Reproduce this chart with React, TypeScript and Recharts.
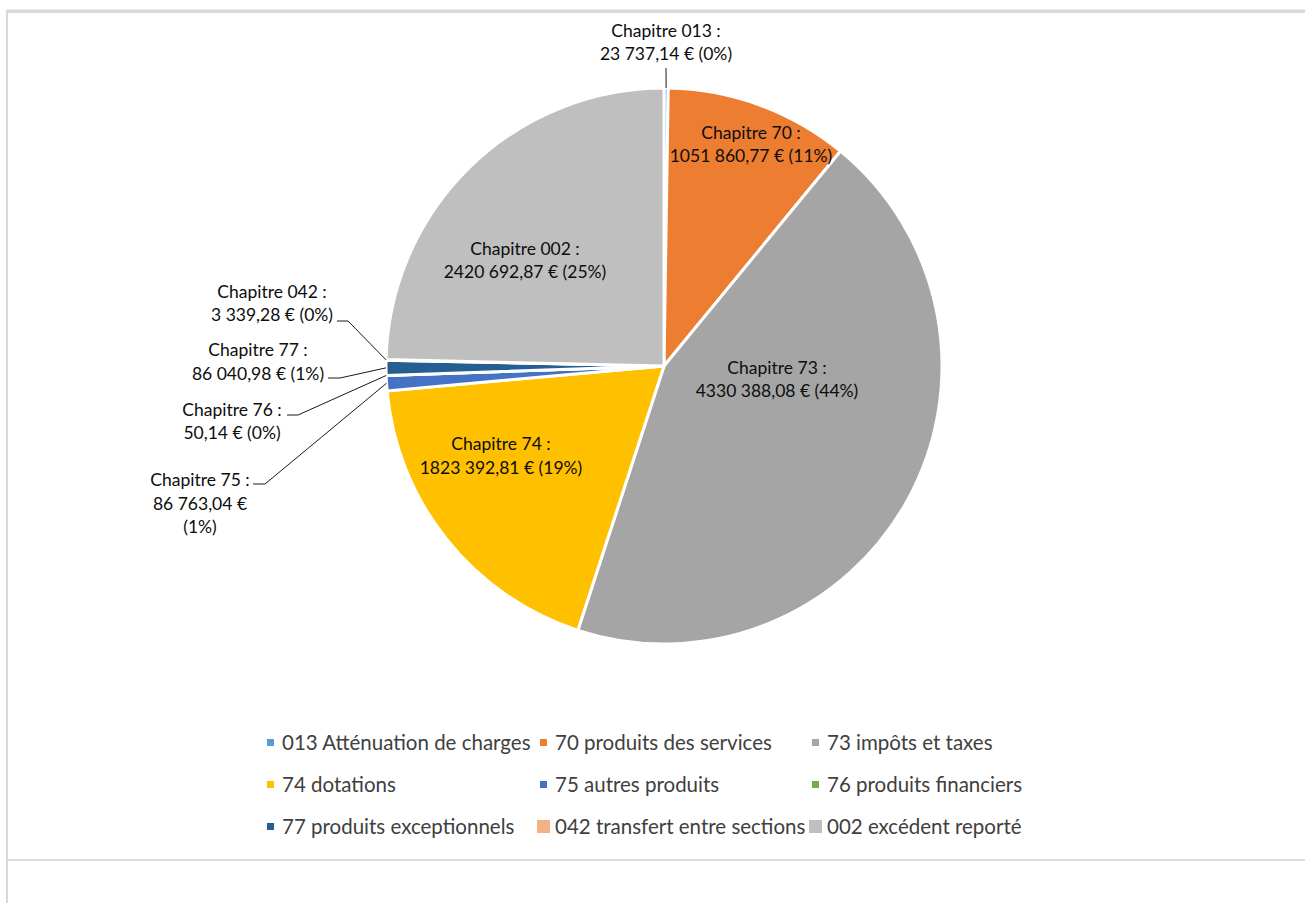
import { PieChart, Pie, Cell, Legend } from "recharts";

const CODES = ["013", "70", "73", "74", "75", "76", "77", "042", "002"];
const NAMES = [
  "013 Atténuation de charges",
  "70 produits des services",
  "73 impôts et taxes",
  "74 dotations",
  "75 autres produits",
  "76 produits financiers",
  "77 produits exceptionnels",
  "042 transfert entre sections",
  "002 excédent reporté",
];
const VALUES = [23737.14, 1051860.77, 4330388.08, 1823392.81, 86763.04, 50.14, 86040.98, 3339.28, 2420692.87];
const COLORS = ["#5B9BD5", "#ED7D31", "#A5A5A5", "#FFC000", "#4472C4", "#70AD47", "#255E91", "#F4B183", "#BFBFBF"];

const data = CODES.map((code, i) => ({ code, name: NAMES[i], value: VALUES[i] }));

const FONT = "Lato, 'Open Sans', sans-serif";
const CX = 664;
const CY = 366;
const LINE_H = 23.5;

// label placement relative to the pie centre (Excel "best fit" look)
type LabelPos = { dx: number; dy: number; wrap?: boolean; leader?: [number, number][] };
const LABEL_POS: Record<string, LabelPos> = {
  "013": { dx: 2, dy: -324, leader: [[2, -298]] },
  "70": { dx: 87, dy: -222 },
  "73": { dx: 113, dy: 13 },
  "74": { dx: -163, dy: 89.5 },
  "75": { dx: -464, dy: 137, wrap: true, leader: [[-399, 118], [-411, 118]] },
  "76": { dx: -432, dy: 55, leader: [[-366, 49], [-377, 49]] },
  "77": { dx: -406, dy: -4.5, leader: [[-324, 12], [-336, 12]] },
  "042": { dx: -392, dy: -63, leader: [[-316, -45], [-327, -45]] },
  "002": { dx: -139, dy: -106 },
};

const formatEuro = (v: number) => {
  const [int, dec] = v.toFixed(2).split(".");
  const head = int.slice(0, -3);
  const tail = int.slice(-3);
  return `${head ? head + " " : ""}${tail},${dec} €`;
};

const renderLabel = (props: any) => {
  const { cx, cy, midAngle, outerRadius, index, percent } = props;
  const code = CODES[index];
  const pos = LABEL_POS[code];
  const pct = Math.round(percent * 100);
  const lines = pos.wrap
    ? [`Chapitre ${code} :`, formatEuro(VALUES[index]), `(${pct}%)`]
    : [`Chapitre ${code} :`, `${formatEuro(VALUES[index])} (${pct}%)`];
  const tx = cx + pos.dx;
  const ty = cy + pos.dy;
  const rad = Math.PI / 180;
  const sx = cx + outerRadius * Math.cos(-midAngle * rad);
  const sy = cy + outerRadius * Math.sin(-midAngle * rad);
  const pts = pos.leader
    ? [[sx, sy], ...pos.leader.map(([x, y]) => [cx + x, cy + y])]
    : null;
  return (
    <g key={`lbl-${code}`}>
      {pts && (
        <polyline
          points={pts.map((p) => p.join(",")).join(" ")}
          fill="none"
          stroke="#1a1a1a"
          strokeWidth={1}
        />
      )}
      {lines.map((line, j) => (
        <text
          key={j}
          x={tx}
          y={ty + (j - (lines.length - 1) / 2) * LINE_H}
          textAnchor="middle"
          dominantBaseline="central"
          fontFamily={FONT}
          fontSize={17.5}
          fill="#0d0d0d"
        >
          {line}
        </text>
      ))}
    </g>
  );
};

const LEGEND_COL_TEXT = [282, 555, 827];
const LEGEND_ROW_Y = [742, 784, 826];
const BIG_MARKERS = ["042", "002"];

const renderLegend = () => (
  <div style={{ position: "relative", width: 1305, height: 903 }}>
    {data.map((d, i) => {
      const row = Math.floor(i / 3);
      const col = i % 3;
      const big = BIG_MARKERS.includes(d.code);
      const size = big ? 13 : 7;
      const textX = LEGEND_COL_TEXT[col];
      const markerRight = textX - (big ? 5 : 8);
      return (
        <div key={d.code}>
          <div
            style={{
              position: "absolute",
              left: markerRight - size,
              top: LEGEND_ROW_Y[row] - size / 2,
              width: size,
              height: size,
              background: COLORS[i],
            }}
          />
          <div
            style={{
              position: "absolute",
              left: textX,
              top: LEGEND_ROW_Y[row] - 14,
              height: 28,
              lineHeight: "28px",
              fontFamily: FONT,
              fontSize: 20.5,
              color: "#404040",
              whiteSpace: "nowrap",
            }}
          >
            {d.name}
          </div>
        </div>
      );
    })}
  </div>
);

const App = () => {
  return (
    <div style={{ position: "absolute", left: 0, top: 0, width: 1305, height: 903, background: "#fff", overflow: "hidden" }}>
      <div style={{ position: "absolute", left: 7, right: 0, top: 9, height: 1, background: "#ececec" }} />
      <div style={{ position: "absolute", left: 7, right: 0, top: 10, height: 3, background: "#d9d9d9" }} />
      <div style={{ position: "absolute", left: 6, top: 10, width: 2, height: 893, background: "#d9d9d9" }} />
      <div style={{ position: "absolute", left: 7, right: 0, top: 859, height: 2, background: "#dcdcdc" }} />
      <div style={{ position: "absolute", left: 0, top: 0 }}>
        <PieChart width={1305} height={903} margin={{ top: 0, right: 0, bottom: 0, left: 0 }}>
          <Pie
            data={data}
            dataKey="value"
            nameKey="name"
            cx={CX}
            cy={CY}
            outerRadius={278}
            startAngle={90}
            endAngle={-270}
            stroke="#ffffff"
            strokeWidth={3}
            label={renderLabel}
            labelLine={false}
            isAnimationActive={false}
          >
            {data.map((d, i) => (
              <Cell key={d.code} fill={COLORS[i]} />
            ))}
          </Pie>
          <Legend
            content={renderLegend}
            wrapperStyle={{ position: "absolute", left: 0, top: 0, width: 1305, height: 903, pointerEvents: "none" }}
          />
        </PieChart>
      </div>
    </div>
  );
};

export default App;
